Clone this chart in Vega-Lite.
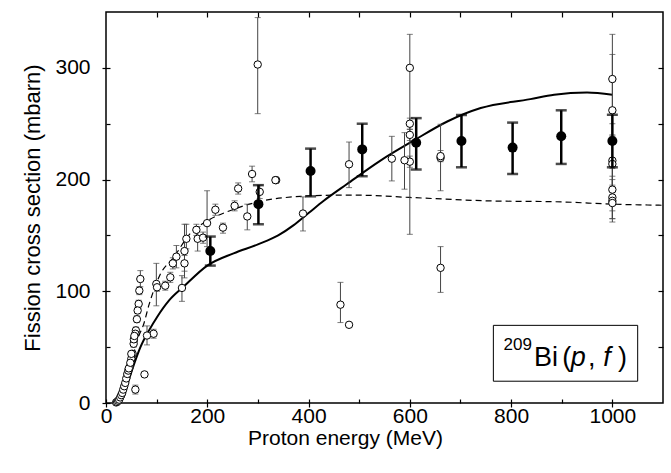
{
  "$schema": "https://vega.github.io/schema/vega-lite/v6.json",
  "width": 557,
  "height": 391,
  "autosize": "none",
  "padding": {"left": 106, "top": 12, "right": 8, "bottom": 70},
  "background": "white",
  "config": {
    "view": {"stroke": "black", "strokeWidth": 1.5},
    "font": "Liberation Sans",
    "axis": {"labelFont": "Liberation Sans", "titleFont": "Liberation Sans", "labelColor": "black", "titleColor": "black", "tickColor": "black", "tickWidth": 1.2, "grid": false, "domain": false, "titleFontWeight": "normal"}
  },
  "datasets": {
    "open": [
      {"E": 288.5, "s": 205, "lo": 198, "hi": 212},
      {"E": 336, "s": 199.5, "lo": 197, "hi": 202},
      {"E": 261, "s": 192, "lo": 187, "hi": 197},
      {"E": 303.6, "s": 189, "lo": 183, "hi": 195},
      {"E": 216, "s": 173, "lo": 168, "hi": 178},
      {"E": 254, "s": 176.5, "lo": 172, "hi": 181},
      {"E": 279, "s": 167, "lo": 155, "hi": 178},
      {"E": 231, "s": 157, "lo": 152, "hi": 161},
      {"E": 199.6, "s": 161, "lo": 140, "hi": 190},
      {"E": 178.5, "s": 155, "lo": 150, "hi": 160},
      {"E": 181, "s": 147, "lo": 136, "hi": 158},
      {"E": 191.7, "s": 148, "lo": 143, "hi": 153},
      {"E": 158.7, "s": 147, "lo": 138, "hi": 160},
      {"E": 155, "s": 136, "lo": 112, "hi": 160},
      {"E": 155, "s": 125, "lo": 118, "hi": 132},
      {"E": 150, "s": 103, "lo": 91, "hi": 114},
      {"E": 139, "s": 131, "lo": 121, "hi": 141},
      {"E": 132, "s": 125, "lo": 120, "hi": 130},
      {"E": 127, "s": 112.5, "lo": 108, "hi": 117},
      {"E": 117, "s": 105, "lo": 101, "hi": 109},
      {"E": 99.4, "s": 106.6, "lo": 87, "hi": 125},
      {"E": 100.8, "s": 103.6, "lo": 100, "hi": 107},
      {"E": 94, "s": 62, "lo": 58, "hi": 66},
      {"E": 81, "s": 60.4, "lo": 52, "hi": 69},
      {"E": 67.8, "s": 111, "lo": 104, "hi": 118.5},
      {"E": 65.8, "s": 100.6, "lo": 97, "hi": 104},
      {"E": 64.5, "s": 88.7, "lo": 85, "hi": 92},
      {"E": 62.5, "s": 82.8, "lo": 80, "hi": 86},
      {"E": 61, "s": 75, "lo": 72, "hi": 78},
      {"E": 59, "s": 65, "lo": 62, "hi": 68},
      {"E": 58, "s": 62, "lo": 59, "hi": 65},
      {"E": 54.6, "s": 53, "lo": 50, "hi": 56},
      {"E": 52.6, "s": 44, "lo": 41, "hi": 47},
      {"E": 50, "s": 39.6, "lo": 37, "hi": 42},
      {"E": 46.6, "s": 32, "lo": 30, "hi": 34},
      {"E": 76, "s": 25.6, "lo": 24, "hi": 27},
      {"E": 58, "s": 12, "lo": 8, "hi": 16},
      {"E": 20, "s": 0.5, "lo": 0, "hi": 1},
      {"E": 22, "s": 1, "lo": 0.5, "hi": 1.5},
      {"E": 24, "s": 2, "lo": 1.5, "hi": 2.5},
      {"E": 26, "s": 3, "lo": 2.5, "hi": 3.5},
      {"E": 28, "s": 5, "lo": 4.5, "hi": 5.5},
      {"E": 30, "s": 7, "lo": 6, "hi": 8},
      {"E": 32, "s": 9, "lo": 8, "hi": 10},
      {"E": 34, "s": 12, "lo": 11, "hi": 13},
      {"E": 36, "s": 15, "lo": 14, "hi": 16},
      {"E": 38, "s": 18, "lo": 17, "hi": 19},
      {"E": 40, "s": 22, "lo": 21, "hi": 23},
      {"E": 42, "s": 26, "lo": 25, "hi": 27},
      {"E": 44, "s": 29, "lo": 28, "hi": 30},
      {"E": 45, "s": 31, "lo": 30, "hi": 32},
      {"E": 48, "s": 36, "lo": 35, "hi": 37},
      {"E": 50, "s": 44, "lo": 42, "hi": 46},
      {"E": 55, "s": 57, "lo": 55, "hi": 59},
      {"E": 56, "s": 60, "lo": 58, "hi": 62},
      {"E": 600, "s": 300, "lo": 151, "hi": 330},
      {"E": 600, "s": 250, "lo": 245, "hi": 255},
      {"E": 600, "s": 240, "lo": 235, "hi": 245},
      {"E": 600, "s": 216, "lo": 211, "hi": 221},
      {"E": 589.5, "s": 217.3, "lo": 191.4, "hi": 242},
      {"E": 564.5, "s": 218.7, "lo": 198.8, "hi": 238.7},
      {"E": 480, "s": 213.7, "lo": 192.8, "hi": 233.6},
      {"E": 389, "s": 169.6, "lo": 154, "hi": 184.5},
      {"E": 660.7, "s": 219.4, "lo": 190, "hi": 249.5},
      {"E": 660.7, "s": 221, "lo": 216, "hi": 226},
      {"E": 299.6, "s": 303, "lo": 259, "hi": 345},
      {"E": 334.6, "s": 199.5, "lo": 197, "hi": 202},
      {"E": 660.7, "s": 121, "lo": 99, "hi": 140},
      {"E": 463, "s": 88, "lo": 72, "hi": 108},
      {"E": 480, "s": 70, "lo": 68, "hi": 72},
      {"E": 1000, "s": 290, "lo": 250, "hi": 330},
      {"E": 1000, "s": 262, "lo": 240, "hi": 312},
      {"E": 1000, "s": 217, "lo": 195, "hi": 239},
      {"E": 1000, "s": 214, "lo": 190, "hi": 238},
      {"E": 1000, "s": 191, "lo": 172, "hi": 210},
      {"E": 1000, "s": 184, "lo": 165, "hi": 203},
      {"E": 1000, "s": 181, "lo": 162, "hi": 200},
      {"E": 1000, "s": 179, "lo": 165, "hi": 193}
    ],
    "filled": [
      {"E": 206, "s": 136, "lo": 123, "hi": 149},
      {"E": 301, "s": 178, "lo": 160, "hi": 195},
      {"E": 404, "s": 207.7, "lo": 185, "hi": 227.7},
      {"E": 506, "s": 227, "lo": 203, "hi": 250},
      {"E": 612.6, "s": 233, "lo": 209, "hi": 255},
      {"E": 702, "s": 234.6, "lo": 211, "hi": 257.8},
      {"E": 803, "s": 228.6, "lo": 205, "hi": 251},
      {"E": 899, "s": 238.7, "lo": 214, "hi": 262},
      {"E": 1000, "s": 234.6, "lo": 211, "hi": 258}
    ],
    "solid": [
      {"E": 18, "s": 0}, {"E": 25, "s": 1}, {"E": 38, "s": 11}, {"E": 51, "s": 29},
      {"E": 68, "s": 50}, {"E": 85, "s": 65}, {"E": 101, "s": 77}, {"E": 125, "s": 92},
      {"E": 153, "s": 104}, {"E": 200, "s": 123}, {"E": 252, "s": 134}, {"E": 300, "s": 142},
      {"E": 340, "s": 150}, {"E": 370, "s": 159}, {"E": 400, "s": 170}, {"E": 430, "s": 181},
      {"E": 476, "s": 196}, {"E": 542, "s": 217}, {"E": 608, "s": 235}, {"E": 674, "s": 252},
      {"E": 740, "s": 264}, {"E": 838, "s": 272}, {"E": 885, "s": 276}, {"E": 950, "s": 278},
      {"E": 1000, "s": 276}
    ],
    "dashed": [
      {"E": 25, "s": 0}, {"E": 35, "s": 10}, {"E": 51, "s": 38}, {"E": 64, "s": 59},
      {"E": 74, "s": 70}, {"E": 85, "s": 88}, {"E": 107, "s": 115}, {"E": 133, "s": 130},
      {"E": 167, "s": 152}, {"E": 200, "s": 163}, {"E": 250, "s": 173}, {"E": 300, "s": 180},
      {"E": 384, "s": 185}, {"E": 450, "s": 186}, {"E": 500, "s": 186}, {"E": 600, "s": 184},
      {"E": 750, "s": 181}, {"E": 900, "s": 180}, {"E": 1000, "s": 178}, {"E": 1100, "s": 177}
    ]
  },
  "resolve": {"axis": {"x": "independent", "y": "independent"}},
  "layer": [
    {
      "data": {"name": "solid"},
      "mark": {"type": "line", "color": "black", "strokeWidth": 2, "interpolate": "monotone"},
      "encoding": {
        "x": {"field": "E", "type": "quantitative", "scale": {"domain": [0, 1100], "nice": false},
          "axis": {"orient": "bottom", "title": "Proton energy (MeV)", "values": [0,100,200,300,400,500,600,700,800,900,1000],
            "labelExpr": "datum.value % 200 === 0 ? format(datum.value, 'd') : ''", "offset": -4,
            "tickSize": {"condition": {"test": "datum.value % 200 === 0", "value": 8}, "value": 4},
            "labelFontSize": 21, "titleFontSize": 21, "labelPadding": -2, "titlePadding": 1, "titleX": 239, "labelFlush": false, "labelOverlap": false}},
        "y": {"field": "s", "type": "quantitative", "scale": {"domain": [0, 350], "nice": false},
          "axis": {"orient": "left", "title": "Fission cross section (mbarn)", "values": [0,50,100,150,200,250,300],
            "labelExpr": "datum.value % 100 === 0 ? format(datum.value, 'd') : ''", "offset": -4,
            "tickSize": {"condition": {"test": "datum.value % 100 === 0", "value": 8}, "value": 4},
            "labelFontSize": 21, "titleFontSize": 22, "labelPadding": 12, "titlePadding": 10, "labelOverlap": false}}
      }
    },
    {
      "data": {"name": "dashed"},
      "mark": {"type": "line", "color": "black", "strokeWidth": 1.2, "strokeDash": [6, 4], "interpolate": "monotone"},
      "encoding": {
        "x": {"field": "E", "type": "quantitative", "scale": {"domain": [0, 1100], "nice": false},
          "axis": {"orient": "top", "title": null, "labels": false, "values": [100,200,300,400,500,600,700,800,900,1000], "offset": -5, "tickSize": 5}},
        "y": {"field": "s", "type": "quantitative", "scale": {"domain": [0, 350], "nice": false},
          "axis": {"orient": "right", "title": null, "labels": false, "values": [50,100,150,200,250,300], "offset": -5, "tickSize": 5}}
      }
    },
    {
      "data": {"name": "open"},
      "mark": {"type": "rule", "color": "#444", "strokeWidth": 1, "clip": true},
      "encoding": {
        "x": {"field": "E", "type": "quantitative", "axis": null},
        "y": {"field": "lo", "type": "quantitative", "axis": null},
        "y2": {"field": "hi"}
      }
    },
    {
      "data": {"name": "open"},
      "transform": [{"fold": ["lo", "hi"], "as": ["end", "v"]}],
      "mark": {"type": "tick", "color": "#444", "orient": "horizontal", "size": 6, "thickness": 1, "clip": true},
      "encoding": {
        "x": {"field": "E", "type": "quantitative", "axis": null},
        "y": {"field": "v", "type": "quantitative", "axis": null}
      }
    },
    {
      "data": {"name": "open"},
      "mark": {"type": "point", "shape": "circle", "filled": true, "fill": "white", "stroke": "black", "strokeWidth": 1, "size": 55, "opacity": 1},
      "encoding": {
        "x": {"field": "E", "type": "quantitative", "axis": null},
        "y": {"field": "s", "type": "quantitative", "axis": null}
      }
    },
    {
      "data": {"name": "filled"},
      "mark": {"type": "rule", "color": "black", "strokeWidth": 2.5},
      "encoding": {
        "x": {"field": "E", "type": "quantitative", "axis": null},
        "y": {"field": "lo", "type": "quantitative", "axis": null},
        "y2": {"field": "hi"}
      }
    },
    {
      "data": {"name": "filled"},
      "transform": [{"fold": ["lo", "hi"], "as": ["end", "v"]}],
      "mark": {"type": "tick", "color": "black", "orient": "horizontal", "size": 11, "thickness": 2.5},
      "encoding": {
        "x": {"field": "E", "type": "quantitative", "axis": null},
        "y": {"field": "v", "type": "quantitative", "axis": null}
      }
    },
    {
      "data": {"name": "filled"},
      "mark": {"type": "point", "shape": "circle", "filled": true, "color": "black", "size": 100, "opacity": 1},
      "encoding": {
        "x": {"field": "E", "type": "quantitative", "axis": null},
        "y": {"field": "s", "type": "quantitative", "axis": null}
      }
    },
    {
      "data": {"values": [{"label": "box"}]},
      "mark": {"type": "rect", "fill": "white", "stroke": "black", "strokeWidth": 1},
      "encoding": {
        "x": {"datum": 765, "type": "quantitative", "axis": null},
        "x2": {"datum": 1050},
        "y": {"datum": 19.5, "type": "quantitative", "axis": null},
        "y2": {"datum": 69.5}
      }
    },
    {
      "data": {"values": [{"t": "209"}]},
      "mark": {"type": "text", "align": "left", "baseline": "alphabetic", "fontSize": 17, "font": "Liberation Sans", "color": "black"},
      "encoding": {
        "x": {"datum": 785, "type": "quantitative", "axis": null},
        "y": {"datum": 47, "type": "quantitative", "axis": null},
        "text": {"field": "t"}
      }
    },
    {
      "data": {"values": [{"t": "Bi"}]},
      "mark": {"type": "text", "align": "left", "baseline": "alphabetic", "fontSize": 27, "font": "Liberation Sans", "color": "black"},
      "encoding": {
        "x": {"datum": 845, "type": "quantitative", "axis": null},
        "y": {"datum": 32.8, "type": "quantitative", "axis": null},
        "text": {"field": "t"}
      }
    },
    {
      "data": {"values": [{"t": "("}]},
      "mark": {"type": "text", "align": "left", "baseline": "alphabetic", "fontSize": 27, "font": "Liberation Sans", "color": "black"},
      "encoding": {
        "x": {"datum": 901, "type": "quantitative", "axis": null},
        "y": {"datum": 32.8, "type": "quantitative", "axis": null},
        "text": {"field": "t"}
      }
    },
    {
      "data": {"values": [{"t": "p"}]},
      "mark": {"type": "text", "align": "left", "baseline": "alphabetic", "fontSize": 27, "fontStyle": "italic", "font": "Liberation Sans", "color": "black"},
      "encoding": {
        "x": {"datum": 918, "type": "quantitative", "axis": null},
        "y": {"datum": 32.8, "type": "quantitative", "axis": null},
        "text": {"field": "t"}
      }
    },
    {
      "data": {"values": [{"t": ","}]},
      "mark": {"type": "text", "align": "left", "baseline": "alphabetic", "fontSize": 27, "font": "Liberation Sans", "color": "black"},
      "encoding": {
        "x": {"datum": 952, "type": "quantitative", "axis": null},
        "y": {"datum": 32.8, "type": "quantitative", "axis": null},
        "text": {"field": "t"}
      }
    },
    {
      "data": {"values": [{"t": "f"}]},
      "mark": {"type": "text", "align": "left", "baseline": "alphabetic", "fontSize": 27, "fontStyle": "italic", "font": "Liberation Sans", "color": "black"},
      "encoding": {
        "x": {"datum": 982, "type": "quantitative", "axis": null},
        "y": {"datum": 32.8, "type": "quantitative", "axis": null},
        "text": {"field": "t"}
      }
    },
    {
      "data": {"values": [{"t": ")"}]},
      "mark": {"type": "text", "align": "left", "baseline": "alphabetic", "fontSize": 27, "font": "Liberation Sans", "color": "black"},
      "encoding": {
        "x": {"datum": 1011, "type": "quantitative", "axis": null},
        "y": {"datum": 32.8, "type": "quantitative", "axis": null},
        "text": {"field": "t"}
      }
    }
  ]
}
